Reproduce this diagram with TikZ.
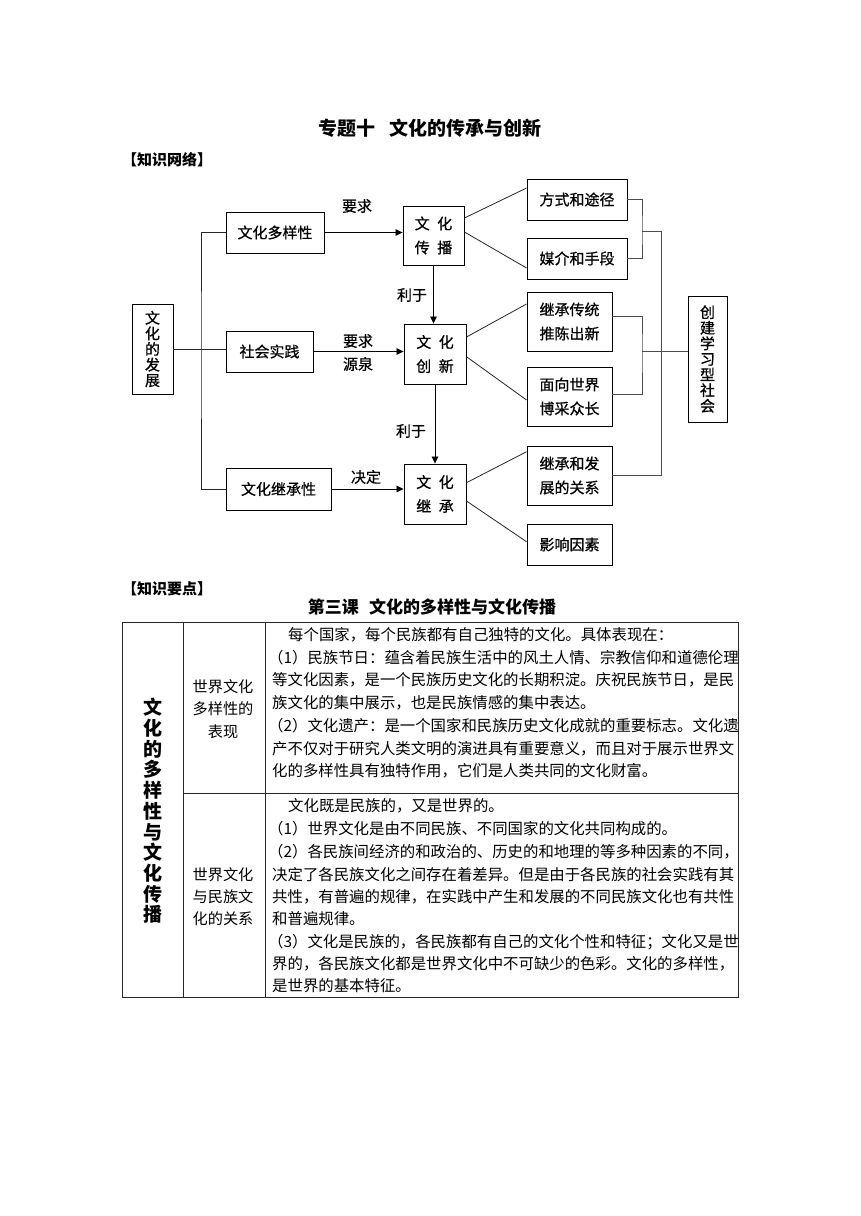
\documentclass[tikz,border=0pt]{standalone}
\usepackage{fontspec}
\setmainfont{Noto Sans CJK SC}
\newfontfamily\dgfont[FakeBold=0.7]{Noto Sans CJK SC}
\usetikzlibrary{arrows.meta,calc}
\begin{document}
\begin{tikzpicture}[x=1pt,y=-1pt,
  box/.style={draw=black, line width=0.9pt, inner sep=0pt, align=center, font=\dgfont\fontsize{15}{24}\selectfont},
  vbox/.style={draw=black, line width=0.9pt, inner sep=0pt, align=center, font=\dgfont\fontsize{15}{15.6}\selectfont},
  conn/.style={draw=black!85, line width=0.8pt},
  brk/.style={draw=black!70, line width=0.9pt},
  arr/.style={draw=black, line width=0.8pt, -{Triangle[length=7pt,width=6.5pt]}},
  lbl/.style={inner sep=0pt, font=\dgfont\fontsize{15}{18}\selectfont},
  head/.style={inner sep=0pt, anchor=west, font=\bfseries\fontsize{15}{18}\selectfont},
  body/.style={inner sep=0pt, anchor=west, font=\fontsize{15.4}{22}\selectfont},
  cell/.style={inner sep=0pt, align=center, font=\fontsize{15.2}{22.2}\selectfont}
]
\fill[white] (0,0) rectangle (860,1216);
\useasboundingbox (0,0) rectangle (860,1216);

% titles
\node[inner sep=0pt, font=\bfseries\fontsize{19}{22}\selectfont] (title) at (430,128) {专题十\hspace{0.7em}文化的传承与创新};
\node[head] (h1) at (122,160) {【知识网络】};

% diagram boxes
\node[vbox, minimum width=41pt, minimum height=90pt] (fz) at (152.5,349) {文\\化\\的\\发\\展};
\node[box, minimum width=98pt, minimum height=41pt] (dy) at (275,232.5) {文化多样性};
\node[box, minimum width=87pt, minimum height=41pt] (sj) at (269.5,351.5) {社会实践};
\node[box, minimum width=105pt, minimum height=42pt] (jc) at (278.5,489) {文化继承性};
\node[box, minimum width=61pt, minimum height=59pt] (cb) at (433.5,235.5) {文\hspace{0.5em}化\\传\hspace{0.5em}播};
\node[box, minimum width=62pt, minimum height=60pt] (cx) at (435,354) {文\hspace{0.5em}化\\创\hspace{0.5em}新};
\node[box, minimum width=62pt, minimum height=60pt] (jch) at (435,494) {文\hspace{0.5em}化\\继\hspace{0.5em}承};
\node[box, minimum width=100pt, minimum height=41pt] (fs) at (577,199.5) {方式和途径};
\node[box, minimum width=100pt, minimum height=41pt] (mj) at (577,258.5) {媒介和手段};
\node[box, minimum width=85pt, minimum height=59pt] (jt) at (569.5,321.5) {继承传统\\推陈出新};
\node[box, minimum width=85pt, minimum height=59pt] (mx) at (569.5,396.5) {面向世界\\博采众长};
\node[box, minimum width=85pt, minimum height=59pt] (jf) at (569.5,475.5) {继承和发\\展的关系};
\node[box, minimum width=85pt, minimum height=41pt] (yx) at (569.5,544.5) {影响因素};
\node[vbox, minimum width=39pt, minimum height=126pt] (cj) at (707.5,359) {创\\建\\学\\习\\型\\社\\会};

% labels
\node[lbl] (l1) at (357,206) {要求};
\node[lbl] (l2) at (358,341) {要求};
\node[lbl] (l3) at (358,364) {源泉};
\node[lbl] (l4) at (366,477) {决定};
\node[lbl] (l5) at (412,295) {利于};
\node[lbl] (l6) at (411,431) {利于};

% trunk
\coordinate (tk) at (201,349);
\draw[conn] (fz.east) -- (fz.east -| sj.west);
\draw[conn] (dy.west) -| (tk) |- (jc.west);

% arrows
\draw[arr] (dy.east) -- (dy.east -| cb.west);
\draw[arr] (sj.east) -- (sj.east -| cx.west);
\draw[arr] (jc.east) -- (jc.east -| jch.west);
\draw[arr] (cb.south) -- (cb.south |- cx.north);
\draw[arr] (cx.south) -- (cx.south |- jch.north);

% fan-out lines
\draw[conn] ([yshift=17.5pt]cb.east) -- ([yshift=11.5pt]fs.west);
\draw[conn] ([yshift=3.5pt]cb.east) -- ([yshift=-9.5pt]mj.west);
\draw[conn] ([yshift=17pt]cx.east) -- ([yshift=17.5pt]jt.west);
\draw[conn] ([yshift=-2.7pt]cx.east) -- ([yshift=-3.5pt]mx.west);
\draw[conn] ([yshift=11.3pt]jch.east) -- ([yshift=23.8pt]jf.west);
\draw[conn] ([yshift=-7pt]jch.east) -- ([yshift=2.8pt]yx.west);

% brackets
\coordinate (b1) at (642,231);
\coordinate (b2) at (661,231);
\coordinate (b3) at (642,351);
\draw[brk] (fs.east) -| (b1) |- (mj.east);
\draw[brk] (b1) -- (b2) |- (jf.east);
\draw[brk] ([yshift=5.5pt]jt.east) -| (b3) |- ([yshift=2.5pt]mx.east);
\draw[brk] (b3) -- (b3 -| cj.west);

% second part
\node[head] (h2) at (122,589) {【知识要点】};
\node[inner sep=0pt, font=\bfseries\fontsize{17}{20}\selectfont] (st) at (432,607) {第三课\hspace{0.6em}文化的多样性与文化传播};

% table
\draw[black!85, line width=0.9pt] (122.7,622.7) rectangle (738,997);
\draw[black!85, line width=0.9pt] (183,622.7) -- (183,997);
\draw[black!85, line width=0.9pt] (265,622.7) -- (265,997);
\draw[black!85, line width=0.9pt] (183,793.5) -- (738,793.5);

\node[inner sep=0pt, align=center, font=\bfseries\fontsize{19}{20.7}\selectfont] (tl) at (153,811) {文\\化\\的\\多\\样\\性\\与\\文\\化\\传\\播};
\node[cell] (c1) at (223,709) {世界文化\\多样性的\\表现};
\node[cell] (c2) at (223,896.7) {世界文化\\与民族文\\化的关系};

\node[body] (r1a) at (288,634.3) {每个国家，每个民族都有自己独特的文化。具体表现在：};
\node[body] (r1b) at (268,657.3) {（1）民族节日：蕴含着民族生活中的风土人情、宗教信仰和道德伦理};
\node[body] (r1c) at (272,680) {等文化因素，是一个民族历史文化的长期积淀。庆祝民族节日，是民};
\node[body] (r1d) at (272,702.7) {族文化的集中展示，也是民族情感的集中表达。};
\node[body] (r1e) at (268,725.7) {（2）文化遗产：是一个国家和民族历史文化成就的重要标志。文化遗};
\node[body] (r1f) at (272,748.3) {产不仅对于研究人类文明的演进具有重要意义，而且对于展示世界文};
\node[body] (r1g) at (272,771) {化的多样性具有独特作用，它们是人类共同的文化财富。};

\node[body] (r2a) at (288,805.7) {文化既是民族的，又是世界的。};
\node[body] (r2b) at (268,829) {（1）世界文化是由不同民族、不同国家的文化共同构成的。};
\node[body] (r2c) at (268,851.7) {（2）各民族间经济的和政治的、历史的和地理的等多种因素的不同，};
\node[body] (r2d) at (272,874.3) {决定了各民族文化之间存在着差异。但是由于各民族的社会实践有其};
\node[body] (r2e) at (272,896.7) {共性，有普遍的规律，在实践中产生和发展的不同民族文化也有共性};
\node[body] (r2f) at (272,919) {和普遍规律。};
\node[body] (r2g) at (268,941.7) {（3）文化是民族的，各民族都有自己的文化个性和特征；文化又是世};
\node[body] (r2h) at (272,964) {界的，各民族文化都是世界文化中不可缺少的色彩。文化的多样性，};
\node[body] (r2i) at (272,985.7) {是世界的基本特征。};
\end{tikzpicture}
\end{document}
